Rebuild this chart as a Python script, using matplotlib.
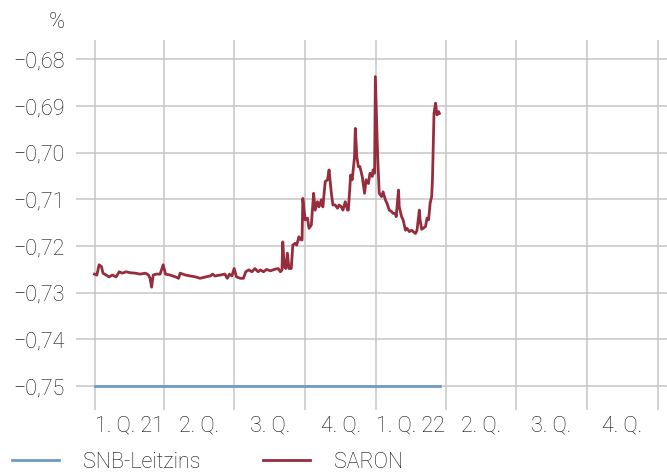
import matplotlib
matplotlib.use('Agg')
import matplotlib.pyplot as plt
import pandas as pd

plt.rcParams['font.family'] = ['Roboto', 'DejaVu Sans']
plt.rcParams['font.weight'] = 'light'

# SARON (date, %)
saron_dates = [
    '2021-01-01', '2021-01-04', '2021-01-07', '2021-01-10', '2021-01-12', '2021-01-16',
    '2021-01-20', '2021-01-24', '2021-01-29', '2021-02-02', '2021-02-06', '2021-02-11',
    '2021-02-16', '2021-02-23', '2021-03-01', '2021-03-08', '2021-03-12', '2021-03-14',
    '2021-03-16', '2021-03-18', '2021-03-22', '2021-03-27', '2021-03-31', '2021-04-03',
    '2021-04-09', '2021-04-16', '2021-04-20', '2021-04-22', '2021-04-29', '2021-05-05',
    '2021-05-12', '2021-05-18', '2021-05-25', '2021-05-31', '2021-06-03', '2021-06-06',
    '2021-06-13', '2021-06-19', '2021-06-22', '2021-06-25', '2021-06-28', '2021-07-01',
    '2021-07-04', '2021-07-09', '2021-07-13', '2021-07-16', '2021-07-20', '2021-07-24',
    '2021-07-28', '2021-08-01', '2021-08-04', '2021-08-08', '2021-08-12', '2021-08-17',
    '2021-08-22', '2021-08-27', '2021-08-30', '2021-09-01', '2021-09-02', '2021-09-04',
    '2021-09-06', '2021-09-08', '2021-09-10', '2021-09-13', '2021-09-15', '2021-09-18',
    '2021-09-20', '2021-09-23', '2021-09-24', '2021-09-27', '2021-09-28', '2021-10-01',
    '2021-10-04', '2021-10-06', '2021-10-09', '2021-10-12', '2021-10-14', '2021-10-17',
    '2021-10-19', '2021-10-22', '2021-10-24', '2021-10-27', '2021-10-30', '2021-11-01',
    '2021-11-04', '2021-11-06', '2021-11-09', '2021-11-12', '2021-11-14', '2021-11-17',
    '2021-11-19', '2021-11-22', '2021-11-25', '2021-11-26', '2021-11-29', '2021-12-01',
    '2021-12-04', '2021-12-05', '2021-12-07', '2021-12-09', '2021-12-11', '2021-12-14',
    '2021-12-17', '2021-12-19', '2021-12-22', '2021-12-24', '2021-12-27', '2021-12-28',
    '2021-12-30', '2021-12-31', '2022-01-03', '2022-01-05', '2022-01-08', '2022-01-10',
    '2022-01-13', '2022-01-15', '2022-01-18', '2022-01-21', '2022-01-23', '2022-01-26',
    '2022-01-27', '2022-01-30', '2022-01-31', '2022-02-03', '2022-02-05', '2022-02-08',
    '2022-02-10', '2022-02-13', '2022-02-16', '2022-02-18', '2022-02-21', '2022-02-23',
    '2022-02-26', '2022-02-27', '2022-03-01', '2022-03-03', '2022-03-06', '2022-03-08',
    '2022-03-10', '2022-03-12', '2022-03-14', '2022-03-15', '2022-03-16', '2022-03-17',
    '2022-03-19', '2022-03-20', '2022-03-21', '2022-03-23', '2022-03-24',
]
saron_values = [
    -0.7260, -0.7262, -0.7240, -0.7244, -0.7258, -0.7262,
    -0.7266, -0.7262, -0.7266, -0.7255, -0.7258, -0.7255,
    -0.7257, -0.7258, -0.7260, -0.7258, -0.7262, -0.7269,
    -0.7288, -0.7262, -0.7260, -0.7260, -0.7240, -0.7260,
    -0.7262, -0.7266, -0.7269, -0.7258, -0.7262, -0.7264,
    -0.7266, -0.7269, -0.7266, -0.7264, -0.7260, -0.7264,
    -0.7262, -0.7260, -0.7269, -0.7260, -0.7264, -0.7248,
    -0.7266, -0.7269, -0.7269, -0.7255, -0.7251, -0.7255,
    -0.7248, -0.7255, -0.7251, -0.7255, -0.7250, -0.7253,
    -0.7250, -0.7248, -0.7255, -0.7251, -0.7191, -0.7244,
    -0.7248, -0.7215, -0.7248, -0.7248, -0.7198, -0.7194,
    -0.7198, -0.7180, -0.7185, -0.7187, -0.7098, -0.7144,
    -0.7140, -0.7162, -0.7155, -0.7087, -0.7123, -0.7105,
    -0.7116, -0.7101, -0.7116, -0.7062, -0.7058, -0.7037,
    -0.7087, -0.7112, -0.7112, -0.7119, -0.7112, -0.7116,
    -0.7123, -0.7105, -0.7123, -0.7123, -0.7048, -0.7058,
    -0.7009, -0.6948, -0.7009, -0.7030, -0.7030, -0.7051,
    -0.7087, -0.7058, -0.7066, -0.7044, -0.7051, -0.7037,
    -0.7044, -0.6837, -0.7009, -0.7087, -0.7094, -0.7084,
    -0.7101, -0.7108, -0.7123, -0.7126, -0.7130, -0.7130,
    -0.7137, -0.7080, -0.7116, -0.7137, -0.7144, -0.7166,
    -0.7162, -0.7169, -0.7166, -0.7169, -0.7173, -0.7166,
    -0.7123, -0.7144, -0.7164, -0.7162, -0.7158, -0.7140,
    -0.7144, -0.7108, -0.7094, -0.7058, -0.6987, -0.6916,
    -0.6894, -0.6909, -0.6919, -0.6912, -0.6916,
]

# SNB policy rate
snb_dates = ['2021-01-01', '2022-03-25']
snb_values = [-0.75, -0.75]

quarter_labels = ['1. Q. 21', '2. Q.', '3. Q.', '4. Q.', '1. Q. 22', '2. Q.', '3. Q.', '4. Q.']
y_ticks = [-0.68, -0.69, -0.70, -0.71, -0.72, -0.73, -0.74, -0.75]

blue = '#6e9cc4'
red = '#972d3c'
grid_col = '#c6c6c6'
text_col = '#111111'

fig = plt.figure(figsize=(6.67, 4.75), dpi=100)
ax = fig.add_axes([76 / 667, 1 - 410 / 475, 591 / 667, 370 / 475])

ax.plot(pd.to_datetime(snb_dates), snb_values, color=blue, lw=2.0, label='SNB-Leitzins')
ax.plot(pd.to_datetime(saron_dates), saron_values, color=red, lw=2.0, label='SARON')

# axis limits
ax.set_ylim(-0.7551, -0.67587)
ax.set_xlim(pd.Timestamp('2020-12-08'), pd.Timestamp('2023-01-13'))

# quarter grid lines, labels centred in each quarter
q_starts = pd.date_range('2021-01-01', '2023-01-01', freq='QS')
q_mids = [q_starts[i] + (q_starts[i + 1] - q_starts[i]) / 2 for i in range(len(q_starts) - 1)]
for d in q_starts:
    ax.axvline(d, color=grid_col, lw=1.1, zorder=0)
ax.set_xticks(q_mids)
ax.set_xticklabels(quarter_labels)

ax.set_yticks(y_ticks)
ax.set_yticklabels(['\u2212' + f'{abs(v):.2f}'.replace('.', ',') for v in y_ticks])
ax.grid(axis='y', color=grid_col, lw=1.1, zorder=0)
ax.set_axisbelow(True)

for s in ax.spines.values():
    s.set_visible(False)
ax.tick_params(axis='both', length=0, labelsize=15.5, colors=text_col)
ax.tick_params(axis='y', pad=8)
ax.tick_params(axis='x', pad=4)

fig.text(65 / 667, 1 - 23 / 475, '%', ha='right', va='center', fontsize=15.5, color=text_col)

fig.legend(loc='center left', bbox_to_anchor=(12 / 667, 1 - 462 / 475), ncol=2, frameon=False,
           fontsize=15.5, handlelength=2.2, handletextpad=1.1, columnspacing=2.9, borderpad=0,
           borderaxespad=0, labelcolor=text_col)

fig.savefig('out.png', dpi=100)
